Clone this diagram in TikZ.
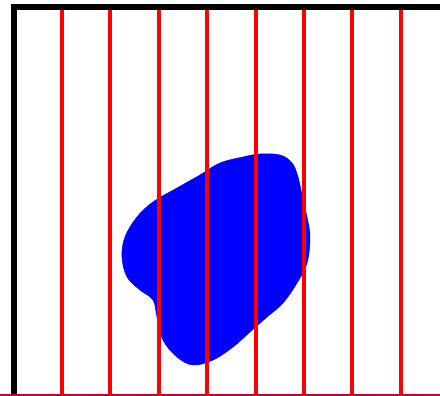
\documentclass[tikz,border=0pt]{standalone}
\usepackage{tikz}

\definecolor{gridred}{RGB}{255,0,0}
\definecolor{blobblue}{RGB}{0,0,255}
\definecolor{edgecrimson}{RGB}{200,0,55}

\begin{document}
\begin{tikzpicture}[
  x=1pt, y=-1pt,
  frame/.style={draw=black, line width=6pt},
  cut/.style={draw=gridred, line width=4pt},
  blob/.style={fill=blobblue, draw=blobblue, line width=0.5pt},
  floor/.style={draw=edgecrimson, line width=2pt}
]
\useasboundingbox (0,0) rectangle (440,396);

% region
\path[blob] plot[smooth cycle, tension=0.6] coordinates {
  (260,154) (280,155) (292,163) (298,177) (303,200) (307,217) (310,237)
  (307,263) (297,283) (283,303) (267,317) (250,332) (233,347) (213,360)
  (193,365) (177,357) (163,340) (157,317) (153,300) (140,290) (127,277)
  (122,257) (125,237) (137,217) (153,202) (177,188) (200,175) (220,163)
  (243,157)};

% vertical cuts
\foreach \x in {62,110.4,158.8,207.2,255.6,304,352.4,400.8}
  \draw[cut] (\x,10) -- (\x,394);

% frame
\draw[frame] (14,396) -- (14,7) -- (440,7);
\draw[floor] (0,395) -- (440,395);
\end{tikzpicture}
\end{document}
